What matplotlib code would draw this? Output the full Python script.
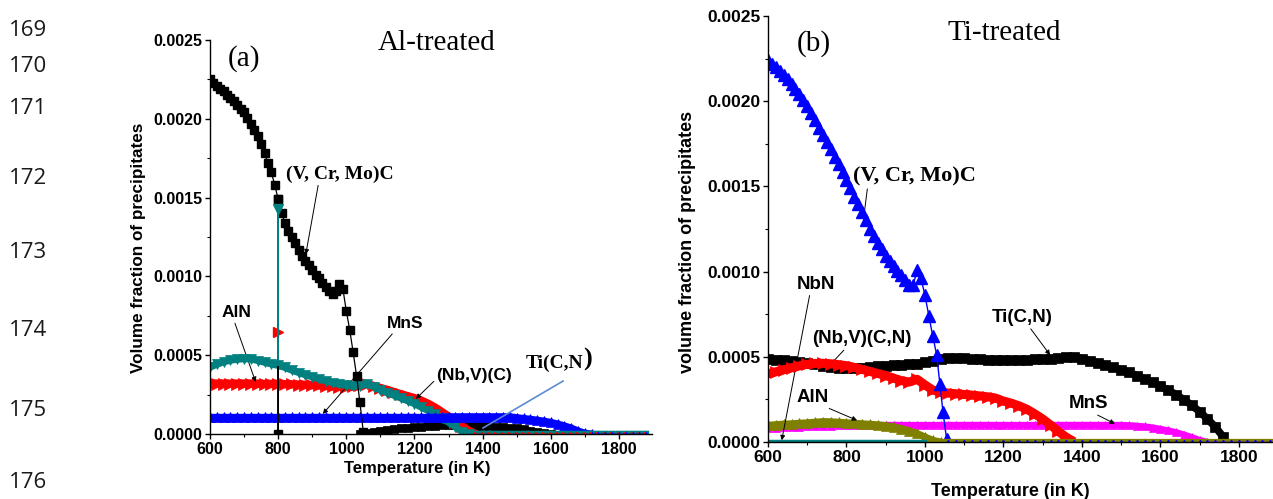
import matplotlib
matplotlib.use("Agg")
import matplotlib.pyplot as plt
from matplotlib.ticker import MultipleLocator, FormatStrFormatter

# ---------------- data: panel (a), Al-treated ----------------
grid_a = list(range(600, 1881, 20))

vcrmo_a_T = list(range(600, 1051, 10))
vcrmo_a = [0.00225, 0.00223, 0.00221, 0.00219, 0.002175, 0.00215, 0.00213,
           0.00211, 0.00209, 0.002065, 0.00204, 0.002005, 0.00197, 0.00193,
           0.00189, 0.00184, 0.00178, 0.00172, 0.00166, 0.00158, 0.00149,
           0.00140, 0.00134, 0.00129, 0.00125, 0.00121, 0.00117, 0.00113,
           0.00110, 0.00107, 0.00104, 0.00101, 0.00099, 0.00096, 0.00093,
           0.00091, 0.00089, 0.00091, 0.00095, 0.00092, 0.00078, 0.00066,
           0.00052, 0.00037, 0.00020, 0.00001]

aln_a = [0.000320, 0.000320, 0.000320, 0.000320, 0.000320, 0.000320, 0.000320,
         0.000320, 0.000318, 0.000318, 0.000318, 0.000316, 0.000315, 0.000314,
         0.000312, 0.000310, 0.000308, 0.000305, 0.000302, 0.000300, 0.000298,
         0.000302, 0.000312, 0.000318, 0.000305, 0.000292, 0.000280, 0.000266,
         0.000252, 0.000240, 0.000228, 0.000212, 0.000192, 0.000168, 0.000140,
         0.000110, 0.000078, 0.000048, 0.000020, 0.0] + [0.0] * 25

nbvc_a = [0.000424, 0.000442, 0.000458, 0.000468, 0.000474, 0.000477, 0.000476,
          0.000466, 0.000455, 0.000444, 0.000435, 0.000422, 0.000405, 0.000390,
          0.000375, 0.000362, 0.000350, 0.000336, 0.000325, 0.000315, 0.000308,
          0.000302, 0.000306, 0.000316, 0.000300, 0.000278, 0.000262, 0.000245,
          0.000228, 0.000210, 0.000192, 0.000170, 0.000148, 0.000124, 0.000100,
          0.000074, 0.000044, 0.000015, 0.0] + [0.0] * 26

mns_a = [0.000106] * 35 + [0.000110] * 10 + [
    0.000104, 0.000099, 0.000094, 0.000088, 0.000082, 0.000074, 0.000064,
    0.000052, 0.000038, 0.000020, 0.000005] + [0.0] * 9

ticn_a_T = list(range(1040, 1601, 20))
ticn_a = [0.0, 0.000004, 0.000012, 0.000020, 0.000026, 0.000032, 0.000037,
          0.000041, 0.000044, 0.000047, 0.000050, 0.000053, 0.000055, 0.000056,
          0.000056, 0.000056, 0.000055, 0.000053, 0.000051, 0.000049, 0.000046,
          0.000043, 0.000040, 0.000036, 0.000030, 0.000022, 0.000014, 0.000007,
          0.0]

# discontinuity of the calculation at 800 K
jump_T = 800
jump_vcrmo_a = 0.0
jump_aln_a = 0.00065
jump_nbvc_a = 0.00143

# ---------------- data: panel (b), Ti-treated ----------------
grid_b = list(range(600, 1881, 20))

vcrmo_b_T = list(range(600, 1031, 10)) + [1038, 1046, 1055] + \
    list(range(1060, 1881, 20))
vcrmo_b = [0.00224, 0.00222, 0.00220, 0.00218, 0.002155, 0.00213, 0.00210,
           0.00207, 0.00204, 0.002005, 0.00197, 0.00193, 0.00189, 0.001845,
           0.00180, 0.00176, 0.00172, 0.001675, 0.00163, 0.001585, 0.00154,
           0.00149, 0.00144, 0.001395, 0.00135, 0.00130, 0.00125, 0.00121,
           0.00117, 0.00113, 0.00109, 0.00106, 0.00103, 0.001005, 0.00098,
           0.00095, 0.00092, 0.00092, 0.00101, 0.00096, 0.00086, 0.00074,
           0.00062, 0.00051, 0.00034, 0.000175, 0.00002] + [0.0] * 42

ticn_b_T = list(range(600, 1761, 20))
ticn_b = [0.000487, 0.000484, 0.000480, 0.000476, 0.000470, 0.000464, 0.000456,
          0.000447, 0.000440, 0.000436, 0.000433, 0.000434, 0.000437, 0.000440,
          0.000444, 0.000448, 0.000451, 0.000453, 0.000456, 0.000460, 0.000468,
          0.000478, 0.000487, 0.000492, 0.000493, 0.000491, 0.000488, 0.000485,
          0.000484, 0.000483, 0.000482, 0.000482, 0.000482, 0.000483, 0.000485,
          0.000487, 0.000489, 0.000492, 0.000496, 0.000500, 0.000490, 0.000478,
          0.000465, 0.000452, 0.000438, 0.000424, 0.000408, 0.000390, 0.000370,
          0.000350, 0.000328, 0.000304, 0.000278, 0.000248, 0.000216, 0.000178,
          0.000135, 0.000088, 0.000030]

nbvcn_b_T = list(range(600, 1381, 20))
nbvcn_b = [0.000400, 0.000412, 0.000424, 0.000436, 0.000447, 0.000456, 0.000461,
           0.000462, 0.000459, 0.000454, 0.000448, 0.000438, 0.000426, 0.000414,
           0.000402, 0.000390, 0.000375, 0.000360, 0.000352, 0.000368, 0.000335,
           0.000305, 0.000292, 0.000287, 0.000283, 0.000279, 0.000275, 0.000270,
           0.000265, 0.000258, 0.000240, 0.000228, 0.000212, 0.000192, 0.000165,
           0.000135, 0.000100, 0.000062, 0.000028, 0.000002]

mns_b = [0.000080, 0.000083, 0.000086, 0.000088, 0.000090, 0.000092, 0.000094,
         0.000095, 0.000096, 0.000097, 0.000098] + [0.000100] * 35 + [
    0.000098, 0.000095, 0.000091, 0.000085, 0.000077, 0.000068, 0.000057,
    0.000044, 0.000028, 0.000012] + [0.0] * 9

aln_b = [0.000098, 0.000102, 0.000105, 0.000107, 0.000110, 0.000113, 0.000116,
         0.000120, 0.000119, 0.000116, 0.000113, 0.000110, 0.000107, 0.000104,
         0.000101, 0.000096, 0.000089, 0.000079, 0.000066, 0.000050, 0.000030,
         0.000010] + [0.0] * 43

nbn_b_T = list(range(600, 1001, 20))
nbn_b = [0.000005] * 21

line_numbers = ["169", "170", "171", "172", "173", "174", "175", "176"]

# ---------------- figure ----------------
W, H = 1273, 499
fig = plt.figure(figsize=(W / 100, H / 100), dpi=100)
SANS = ['Liberation Sans', 'DejaVu Sans']
SERIF = ['Liberation Serif', 'DejaVu Serif']

TEAL = '#008080'
OLIVE = '#808000'
MAGENTA = '#ff00ff'


def fx(x):
    return x / W


def fy(y):
    return 1 - y / H


def with_jump(temps, vals, t0, peak):
    """Insert a vertical excursion to `peak` at temperature t0."""
    out_t, out_v = [], []
    for t, v in zip(temps, vals):
        out_t.append(t)
        out_v.append(v)
        if t == t0:
            out_t += [t0, t0]
            out_v += [peak, v]
    return out_t, out_v


def split_tail(temps, vals):
    """Return index where the trailing run of zeros starts."""
    k = len(vals)
    while k > 0 and vals[k - 1] == 0.0:
        k -= 1
    return min(k, len(vals) - 1)


def plot_band(ax, temps, vals, color, marker, ms, lw, z,
              tail_ms=3.0, tail_lw=1.0, tail_z=None):
    k = split_tail(temps, vals)
    ax.plot(temps[:k + 1], vals[:k + 1], color=color, lw=lw,
            solid_capstyle='butt', zorder=z)
    ax.plot(temps[:k + 1], vals[:k + 1], ls='none', marker=marker, ms=ms,
            mfc=color, mec=color, mew=0.5, zorder=z)
    if k < len(vals) - 1:
        tz = z if tail_z is None else tail_z
        ax.plot(temps[k:], vals[k:], color=color, lw=tail_lw, marker=marker,
                ms=tail_ms, mfc=color, mec=color, mew=0.3, zorder=tz)


def plot_jump(ax, temps, vals, t0, peak, color, marker, ms, z):
    """Thin vertical excursion with a single marker at its tip."""
    jt, jv = with_jump(temps, vals, t0, peak)
    i = jt.index(t0)
    ax.plot(jt[i:i + 3], jv[i:i + 3], color=color, lw=1.2, zorder=z)
    ax.plot([jt[i + 1]], [jv[i + 1]], ls='none', marker=marker, ms=ms,
            mfc=color, mec=color, zorder=z)


def style_axes(ax, xmax, fs):
    ax.set_xlim(600, xmax)
    ax.set_ylim(0, 0.0025)
    for s in ('top', 'right'):
        ax.spines[s].set_visible(False)
    for s in ('left', 'bottom'):
        ax.spines[s].set_linewidth(1.0)
        ax.spines[s].set_zorder(20)
    ax.xaxis.set_major_locator(MultipleLocator(200))
    ax.xaxis.set_minor_locator(MultipleLocator(100))
    ax.yaxis.set_major_locator(MultipleLocator(0.0005))
    ax.yaxis.set_minor_locator(MultipleLocator(0.00025))
    ax.yaxis.set_major_formatter(FormatStrFormatter('%.4f'))
    ax.tick_params(which='major', direction='out', length=3.5, width=1.0,
                   labelsize=fs, pad=2)
    ax.tick_params(which='minor', direction='out', length=2.0, width=0.8)
    for lab in ax.get_xticklabels() + ax.get_yticklabels():
        lab.set_fontfamily(SANS)
        lab.set_fontweight('bold')


arrow_kw = dict(arrowstyle='-|>', lw=0.7, color='black', mutation_scale=7,
                shrinkA=0, shrinkB=0)

# ---------------- panel (a) ----------------
ax = fig.add_axes([fx(210), fy(434), fx(652) - fx(210), (434 - 40) / H])

plot_band(ax, ticn_a_T, ticn_a, 'black', 's', 6, 4.0, 2)
plot_band(ax, grid_a, aln_a, 'red', '>', 8, 6.0, 3, tail_ms=3.5, tail_z=9)
plot_jump(ax, grid_a, aln_a, jump_T, jump_aln_a, 'red', '>', 7, 3)
plot_band(ax, grid_a, nbvc_a, TEAL, 'v', 7.5, 5.0, 4, tail_ms=4,
          tail_lw=4.5, tail_z=8)
plot_band(ax, grid_a, mns_a, 'blue', '^', 7, 5.0, 5, tail_ms=3.5, tail_z=9)
t, v = with_jump(vcrmo_a_T, vcrmo_a, jump_T, jump_vcrmo_a)
ax.plot(t, v, color='black', marker='s', ms=6.3, mec='black', lw=0.9,
        zorder=6)
plot_jump(ax, grid_a, nbvc_a, jump_T, jump_nbvc_a, TEAL, 'v', 7, 7)

style_axes(ax, 1897, 11.5)

ax.text(701, 0.00238, "(a)", family=SERIF, fontsize=21, ha='center',
        va='center')
ax.text(1265, 0.00248, "Al-treated", family=SERIF, fontsize=21, ha='center',
        va='center')
ax.annotate("(V, Cr, Mo)C", xy=(881, 0.00114), xytext=(982, 0.00165),
            family=SERIF, fontweight='bold', fontsize=14, ha='center',
            va='center', arrowprops=dict(arrow_kw, relpos=(0.3, 0.0)))
ax.annotate("AlN", xy=(734, 0.00033), xytext=(679, 0.000768), family=SANS,
            fontweight='bold', fontsize=12.5, ha='center', va='center',
            arrowprops=dict(arrow_kw, relpos=(0.4, 0.0)))
ax.annotate("MnS", xy=(931, 0.000127), xytext=(1174, 0.0007), family=SANS,
            fontweight='bold', fontsize=12.5, ha='center', va='center',
            arrowprops=dict(arrow_kw, relpos=(0.2, 0.0)))
ax.annotate("(Nb,V)(C)", xy=(1204, 0.000223), xytext=(1376, 0.00037),
            family=SANS, fontweight='bold', fontsize=12.5, ha='center',
            va='center', arrowprops=dict(arrow_kw, relpos=(0.0, 0.3)))
ax.text(1612, 0.00045, "Ti(C,N", family=SERIF, fontweight='bold',
        fontsize=14, ha='center', va='center')
ax.text(1709, 0.00047, ")", family=SERIF, fontweight='bold', fontsize=19,
        ha='center', va='center')
ax.plot([1636, 1401], [0.000336, 0.000038], color='#5b8bd0', lw=1.2,
        zorder=10)

fig.text(fx(417), fy(469), "Temperature (in K)", family=SANS,
         fontweight='bold', fontsize=12, ha='center', va='center')
fig.text(fx(138), fy(248), "Volume fraction of precipitates", family=SANS,
         fontweight='bold', fontsize=12.3, ha='center', va='center',
         rotation=90)

# ---------------- panel (b) ----------------
bx = fig.add_axes([fx(768), fy(442), 1 - fx(768), (442 - 16) / H])

plot_band(bx, grid_b, mns_b, MAGENTA, '^', 6, 4.5, 2, tail_ms=3, tail_z=9)
plot_band(bx, grid_b, aln_b, OLIVE, '^', 6.5, 5.0, 3, tail_ms=4,
          tail_lw=4.5, tail_z=8)
plot_band(bx, ticn_b_T, ticn_b, 'black', 's', 7, 5.5, 4)
plot_band(bx, nbvcn_b_T, nbvcn_b, 'red', '>', 8.5, 6.5, 5)
bx.plot(nbn_b_T, nbn_b, color=TEAL, lw=2.5, zorder=6)
k = split_tail(vcrmo_b_T, vcrmo_b)
bx.plot(vcrmo_b_T[:k + 1], vcrmo_b[:k + 1], color='blue', marker='^', ms=8.5,
        mec='blue', lw=1.0, zorder=7)
bx.plot(vcrmo_b_T[k:], vcrmo_b[k:], color='blue', marker='^', ms=3,
        mec='blue', lw=0.8, zorder=9)

style_axes(bx, 1887, 12.5)

bx.text(717, 0.00234, "(b)", family=SERIF, fontsize=21, ha='center',
        va='center')
bx.text(1203, 0.0024, "Ti-treated", family=SERIF, fontsize=21, ha='center',
        va='center')
bx.annotate("(V, Cr, Mo)C", xy=(843, 0.0013), xytext=(973, 0.00156),
            family=SERIF, fontweight='bold', fontsize=16, ha='center',
            va='center', arrowprops=dict(arrow_kw, relpos=(0.12, 0.0)))
bx.annotate("NbN", xy=(635, 0.00001), xytext=(722, 0.000926), family=SANS,
            fontweight='bold', fontsize=13.5, ha='center', va='center',
            arrowprops=dict(arrow_kw, relpos=(0.35, 0.0)))
bx.annotate("(Nb,V)(C,N)", xy=(757, 0.00045), xytext=(838, 0.000605),
            family=SANS, fontweight='bold', fontsize=13.5, ha='center',
            va='center', arrowprops=dict(arrow_kw, relpos=(0.35, 0.0)))
bx.annotate("AlN", xy=(827, 0.000127), xytext=(715, 0.000263), family=SANS,
            fontweight='bold', fontsize=13.5, ha='center', va='center',
            arrowprops=dict(arrow_kw, relpos=(0.8, 0.0)))
bx.annotate("Ti(C,N)", xy=(1319, 0.00051), xytext=(1249, 0.00073),
            family=SANS, fontweight='bold', fontsize=13.5, ha='center',
            va='center', arrowprops=dict(arrow_kw, relpos=(0.6, 0.0)))
bx.annotate("MnS", xy=(1484, 0.000107), xytext=(1416, 0.000224), family=SANS,
            fontweight='bold', fontsize=13.5, ha='center', va='center',
            arrowprops=dict(arrow_kw, relpos=(0.6, 0.0)))

fig.text(fx(1010), fy(491), "Temperature (in K)", family=SANS,
         fontweight='bold', fontsize=13, ha='center', va='center')
fig.text(fx(687), fy(242), "volume fraction of precipitates", family=SANS,
         fontweight='bold', fontsize=13, ha='center', va='center',
         rotation=90)

# line numbering down the left margin
for lab, y in zip(line_numbers, [30, 67, 108, 178, 253, 330, 410, 482]):
    fig.text(fx(9), fy(y), lab, family=['Open Sans', 'DejaVu Sans'],
             fontsize=16, ha='left', va='center', color='#1a1a1a')

fig.savefig("out.png", dpi=100)
